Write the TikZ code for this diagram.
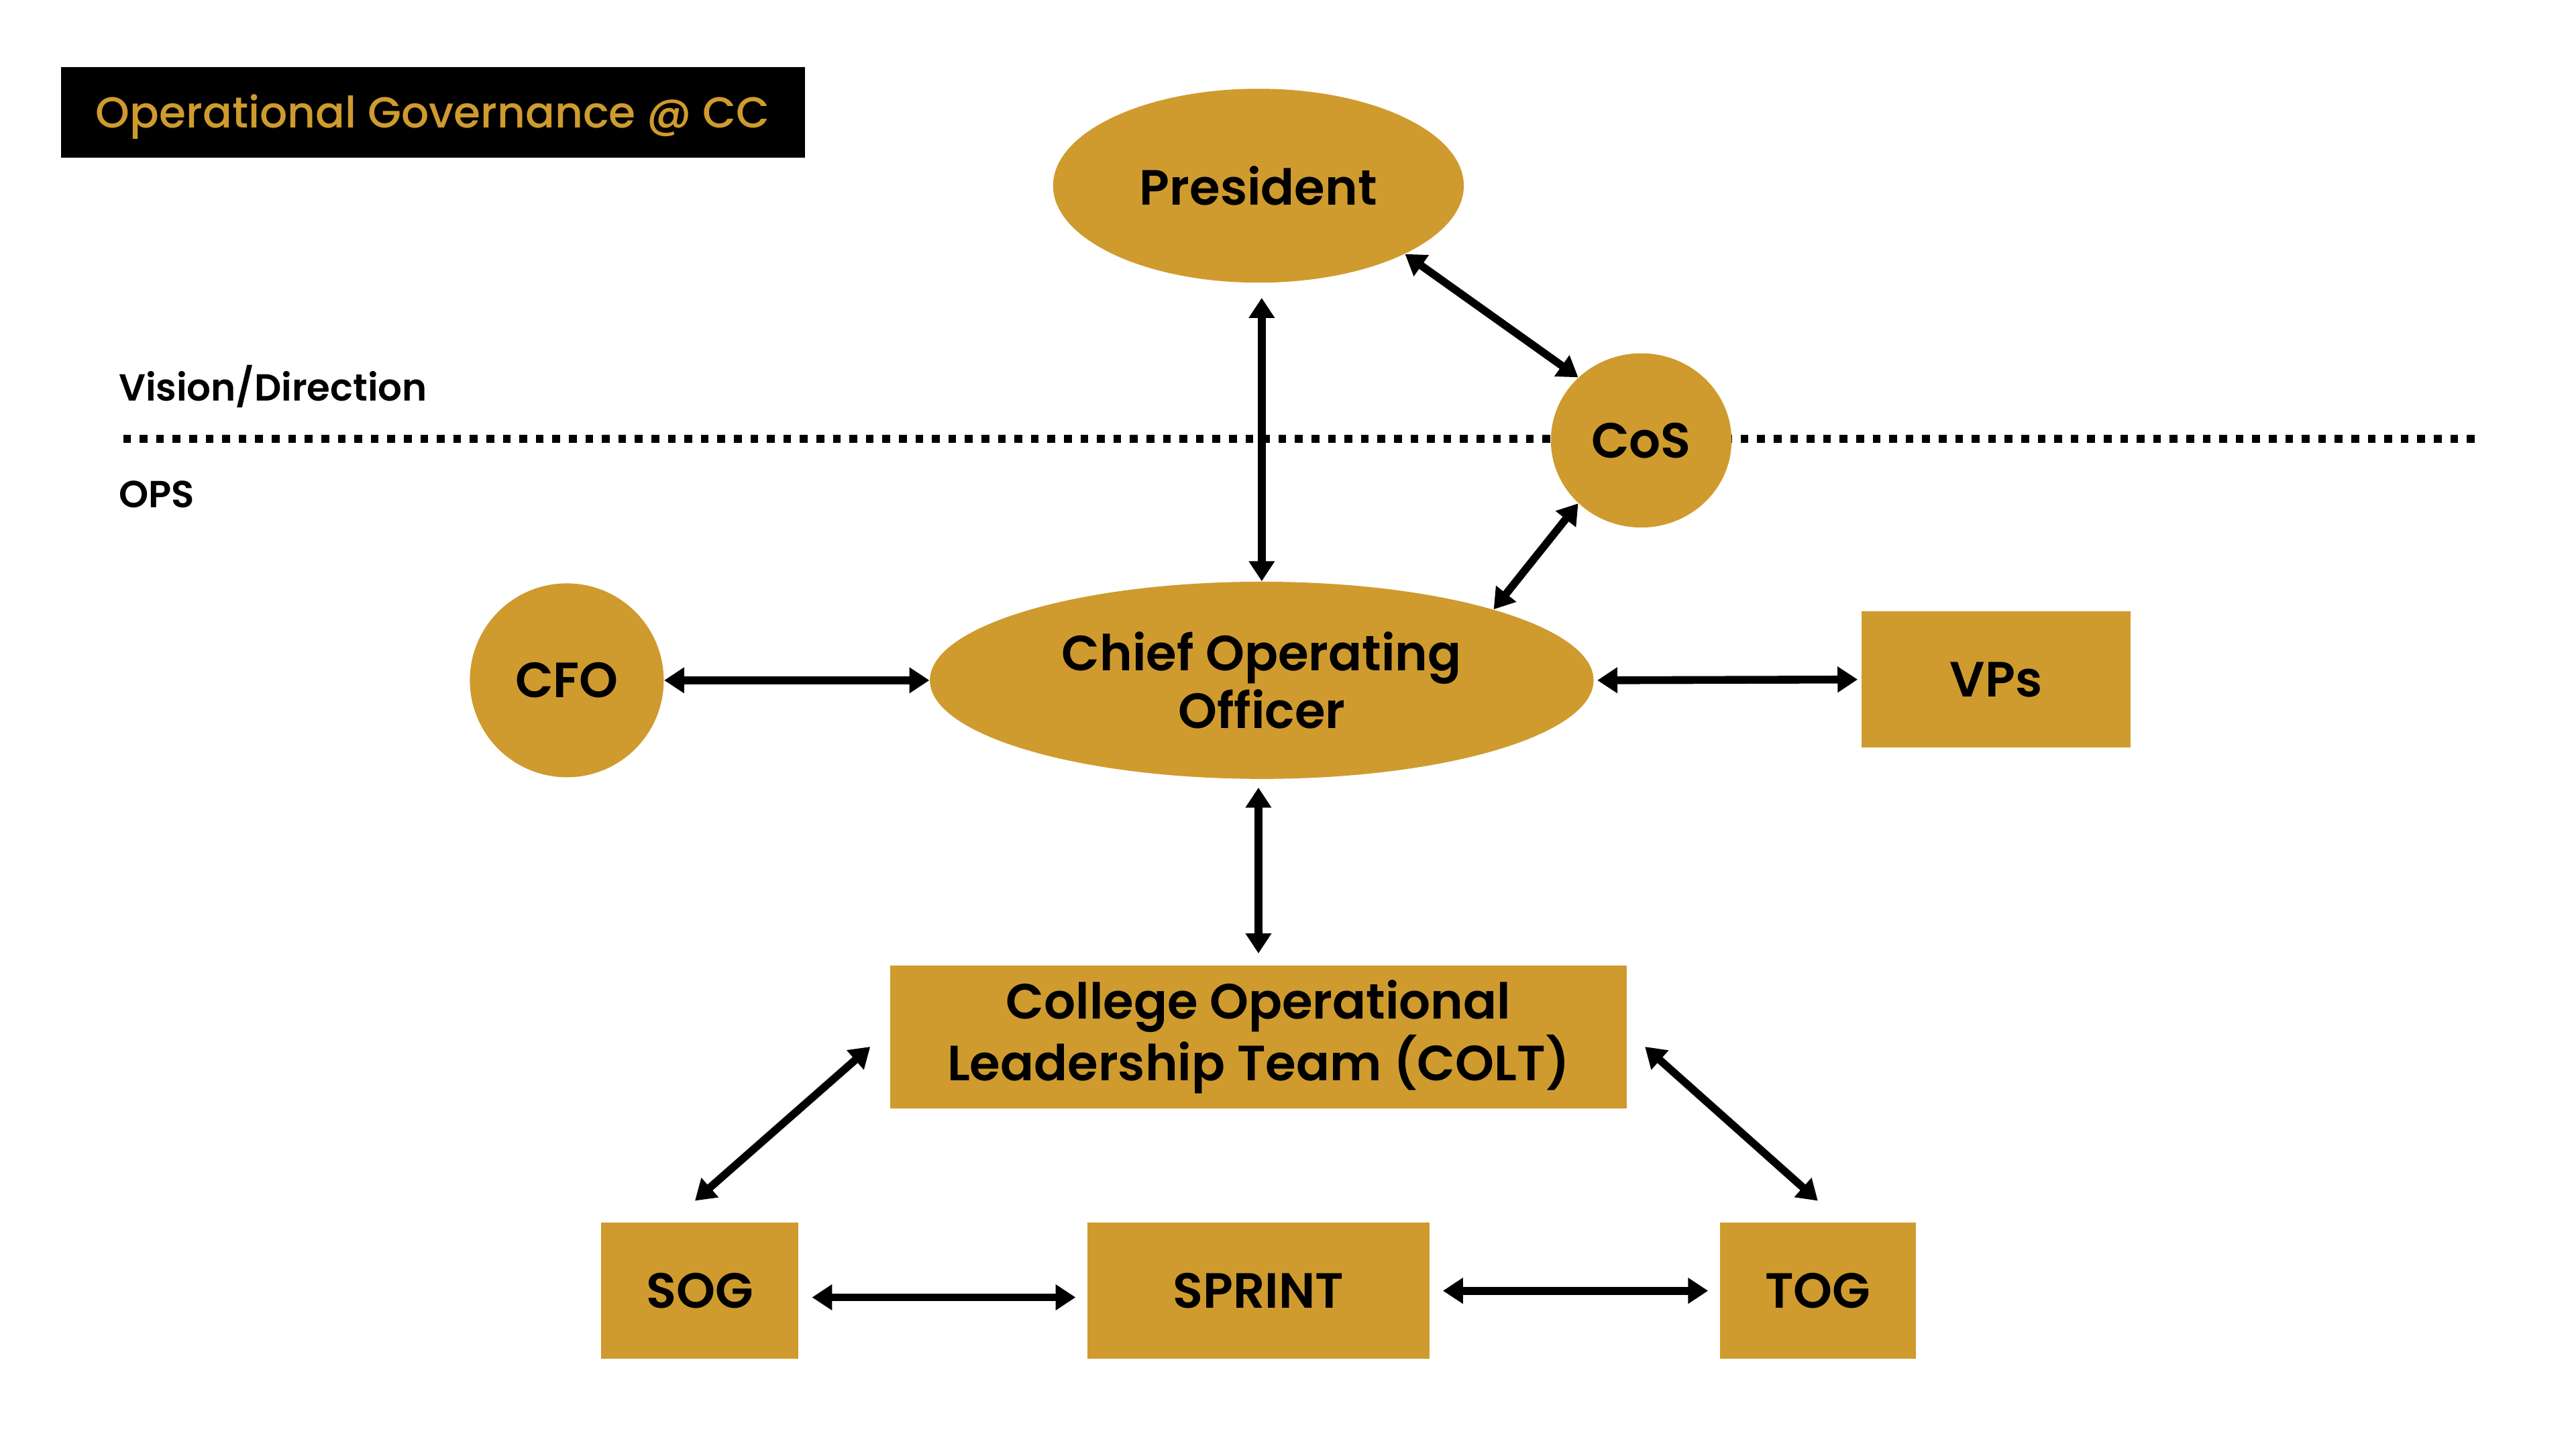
\documentclass[tikz,border=0pt]{standalone}
\usepackage{fontspec}
\setmainfont{Poppins}[UprightFont=* SemiBold, BoldFont=* Bold]
\newfontfamily\medfont{Poppins Medium}
\usetikzlibrary{shapes.geometric,arrows.meta,calc}
\definecolor{gold}{RGB}{207,155,46}
\def\uu{0.02449cm}
\begin{document}
\begin{tikzpicture}[x=0.02449cm,y=-0.02449cm,
  lab/.style={font=\fontsize{21pt}{24.4pt}\selectfont},
  boxnode/.style={lab, fill=gold, draw=none, inner sep=0pt, align=center, text=black},
  ellnode/.style={boxnode, ellipse},
  arr/.style={{Triangle[width=10.5pt,length=8.5pt]}-{Triangle[width=10.5pt,length=8.5pt]}, line width=3.3pt, black},
  dotline/.style={line width=3.3pt, dash pattern=on 3.3pt off 3.7pt, black},
  side/.style={font=\fontsize{16pt}{19pt}\selectfont, anchor=west, inner sep=0pt}
]
\useasboundingbox (0,0) rectangle (1568,882);
\fill[white] (0,0) rectangle (1568,882);

% separator
\coordinate (dl) at (75,267);
\coordinate (dr) at (1507,267);
\draw[dotline] (dl) -- (dr);

% title
\node[fill=black, minimum width=453*\uu, minimum height=55*\uu, inner sep=0pt] (titlebox) at (263.5,68.5) {};
\node[inner sep=0pt, text=gold, font=\medfont\fontsize{18.4pt}{21pt}\selectfont] (title) at (263.5,71) {Operational Governance @ CC};

\node[side] (vis) at (72,235) {Vision/Direction};
\node[side] (ops) at (72,301) {OPS};

% nodes
\node[ellnode, minimum width=250*\uu, minimum height=118*\uu] (pres) at (766,113) {President};
\node[ellnode, minimum width=110*\uu, minimum height=106*\uu] (cos) at (999,268) {CoS};
\node[ellnode, minimum width=404*\uu, minimum height=120*\uu] (coo) at (768,414) {Chief Operating\\Officer};
\node[ellnode, minimum width=118*\uu, minimum height=118*\uu] (cfo) at (345,414) {CFO};
\node[boxnode, minimum width=164*\uu, minimum height=83*\uu] (vps) at (1215,413.5) {VPs};
\node[boxnode, minimum width=448*\uu, minimum height=87*\uu] (colt) at (766,631) {College Operational\\Leadership Team (COLT)};
\node[boxnode, minimum width=120*\uu, minimum height=83*\uu] (sog) at (426,785.5) {SOG};
\node[boxnode, minimum width=208*\uu, minimum height=83*\uu] (sprint) at (766,785.5) {SPRINT};
\node[boxnode, minimum width=119*\uu, minimum height=83*\uu] (tog) at (1106.5,785.5) {TOG};

% connectors
\draw[arr] ($(pres.south)+(2,9)$) -- (coo.north);
\draw[arr] (pres.-25.5) -- (cos.135);
\draw[arr] (cos.225) -- (coo.17);
\draw[arr] (cfo.east) -- (coo.west);
\draw[arr] ($(coo.east)+(2,0)$) -- ($(vps.west)+(-2,0)$);
\draw[arr] ($(coo.south)+(-2,5)$) -- ($(colt.north)+(0,-7)$);
\draw[arr] ($(colt.west)+(-12,6)$) -- ($(sog.north)+(-3,-13)$);
\draw[arr] ($(colt.east)+(11,6)$) -- ($(tog.north)+(0,-13)$);
\draw[arr] ($(sog.east)+(8,4)$) -- ($(sprint.west)+(-7,4)$);
\draw[arr] ($(sprint.east)+(8,0)$) -- ($(tog.west)+(-7,0)$);
\end{tikzpicture}
\end{document}
